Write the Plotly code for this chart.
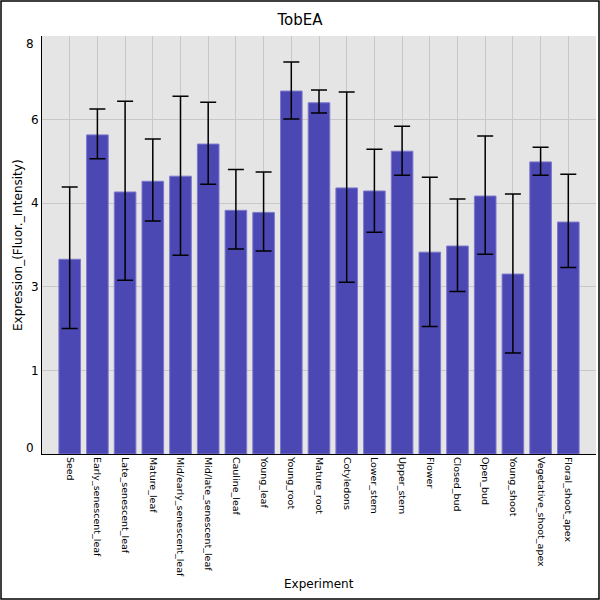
import plotly.graph_objects as go

# tissues on the x axis
experiments = ['Seed', 'Early_senescent_leaf', 'Late_senescent_leaf', 'Mature_leaf',
               'Mid/early_senescent_leaf', 'Mid/late_senescent_leaf', 'Cauline_leaf',
               'Young_leaf', 'Young_root', 'Mature_root', 'Cotyledons', 'Lower_stem',
               'Upper_stem', 'Flower', 'Closed_bud', 'Open_bud', 'Young_shoot',
               'Vegetative_shoot_apex', 'Floral_shoot_apex']

# mean expression and error
expression = [3.82, 6.26, 5.14, 5.35, 5.45, 6.08, 4.78, 4.74, 7.12, 6.89,
              5.22, 5.16, 5.94, 3.96, 4.08, 5.06, 3.53, 5.73, 4.55]
err_plus = [1.42, 0.51, 1.78, 0.83, 1.57, 0.82, 0.80, 0.79, 0.57, 0.25,
            1.88, 0.82, 0.49, 1.47, 0.92, 1.18, 1.57, 0.29, 0.94]
err_minus = [1.36, 0.47, 1.73, 0.78, 1.55, 0.79, 0.76, 0.76, 0.55, 0.20,
             1.85, 0.81, 0.47, 1.46, 0.89, 1.14, 1.55, 0.26, 0.89]

# y ticks sit at steps of 1.64 but the labels are truncated to integers
ytick_vals = [0, 1.64, 3.28, 4.92, 6.56, 8.2]
ytick_text = ['0', '1', '3', '4', '6', '8']

idx = list(range(len(experiments)))

fig = go.Figure()
fig.add_trace(go.Bar(
    x=idx,
    y=expression,
    width=0.78,
    marker=dict(color='rgb(75,71,179)', line=dict(color='rgb(125,120,205)', width=1)),
    error_y=dict(type='data', symmetric=False, array=err_plus, arrayminus=err_minus,
                 color='black', thickness=1.5, width=8),
))

# margins, used for the outer frame too
ml, mr, mt, mb = 42, 4, 36, 146
pw, ph = 600 - ml - mr, 600 - mt - mb

# first and last y labels are nudged inside the plot, like the original
inner_labels = ytick_text[1:-1]
edge_notes = [
    dict(text=ytick_text[0], xref='paper', yref='y', x=-6 / pw, y=ytick_vals[0],
         xanchor='right', yanchor='middle', yshift=6, showarrow=False,
         font=dict(size=12)),
    dict(text=ytick_text[-1], xref='paper', yref='y', x=-6 / pw, y=ytick_vals[-1],
         xanchor='right', yanchor='middle', yshift=-8, showarrow=False,
         font=dict(size=12)),
]

fig.update_layout(
    width=600, height=600,
    margin=dict(l=ml, r=mr, t=mt, b=mb),
    paper_bgcolor='white',
    plot_bgcolor='rgb(229,229,229)',
    showlegend=False,
    font=dict(family='DejaVu Sans', color='black'),
    title=dict(text='TobEA', x=0.5, xanchor='center', y=0.967, yanchor='middle',
               font=dict(size=15, color='black')),
    xaxis=dict(
        range=[-1, 19], automargin=False,
        tickmode='array', tickvals=idx, ticktext=experiments,
        tickangle=90, tickfont=dict(size=9.5),
        showgrid=True, gridcolor='rgb(200,200,200)', gridwidth=1,
        showline=True, linecolor='black', linewidth=1,
        ticks='', zeroline=False,
    ),
    yaxis=dict(
        range=[0, 8.2], automargin=False,
        tickmode='array', tickvals=ytick_vals,
        ticktext=[''] + inner_labels + [''],
        tickfont=dict(size=12),
        showgrid=True, gridcolor='rgb(200,200,200)', gridwidth=1,
        showline=True, linecolor='black', linewidth=1,
        ticks='', zeroline=False,
    ),
    annotations=edge_notes + [
        dict(text='Experiment', xref='paper', yref='paper', x=0.5, y=-130 / ph,
             xanchor='center', yanchor='middle', showarrow=False, font=dict(size=12)),
        dict(text='Expression_(Fluor._Intensity)', xref='paper', yref='paper',
             x=-24 / pw, y=0.5, textangle=-90, xanchor='center', yanchor='middle',
             showarrow=False, font=dict(size=12)),
    ],
    shapes=[dict(type='rect', xref='paper', yref='paper',
                 x0=(-ml + 1) / pw, x1=1 + (mr - 1) / pw,
                 y0=(-mb + 1) / ph, y1=1 + (mt - 1) / ph,
                 line=dict(color='black', width=1.5), fillcolor='rgba(0,0,0,0)')],
)

# drop the default page margin so the figure sits at the window corner
fig.write_html("out.html", config={'displayModeBar': False},
               post_script="document.body.style.margin='0';")
